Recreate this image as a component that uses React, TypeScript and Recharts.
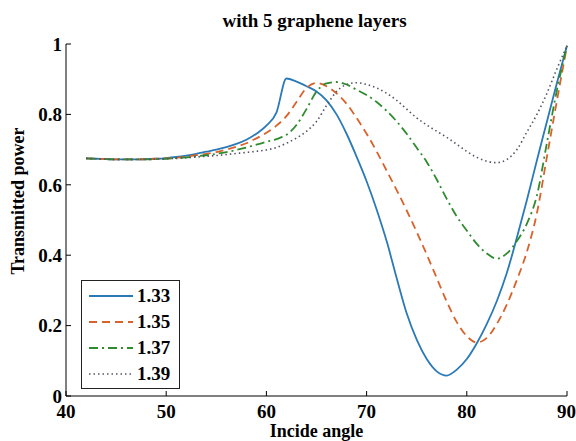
import { LineChart, Line, XAxis, YAxis, Legend } from 'recharts'

const FONT = "'Liberation Serif', 'Times New Roman', serif"

const angles = [
  42, 43, 44, 45, 46, 47, 48, 49, 50, 51, 52, 53, 54, 55, 56, 57, 58, 59, 60, 61, 62, 63, 64, 65, 66,
  67, 68, 69, 70, 71, 72, 73, 74, 75, 76, 77, 78, 79, 80, 81, 82, 83, 84, 85, 86, 87, 88, 89, 90,
]

// refractive index 1.33
const n133 = [
  0.675, 0.674, 0.673, 0.672, 0.672, 0.672, 0.673, 0.674, 0.676, 0.679, 0.683, 0.688, 0.694, 0.7, 0.707,
  0.716, 0.728, 0.745, 0.768, 0.805, 0.902, 0.893, 0.88, 0.865, 0.84, 0.8, 0.745, 0.68, 0.61, 0.53, 0.44,
  0.335, 0.235, 0.16, 0.105, 0.07, 0.058, 0.075, 0.105, 0.15, 0.205, 0.27, 0.35, 0.45, 0.557, 0.67, 0.78,
  0.89, 0.995,
]

// refractive index 1.35
const n135 = [
  0.675, 0.674, 0.673, 0.672, 0.672, 0.672, 0.673, 0.674, 0.675, 0.677, 0.68, 0.684, 0.688, 0.693, 0.7,
  0.708, 0.718, 0.732, 0.748, 0.768, 0.795, 0.835, 0.875, 0.889, 0.88, 0.86, 0.83, 0.79, 0.745, 0.695, 0.64,
  0.585, 0.527, 0.466, 0.402, 0.335, 0.268, 0.21, 0.17, 0.152, 0.165, 0.205, 0.26, 0.33, 0.41, 0.52, 0.68,
  0.84, 0.995,
]

// refractive index 1.37
const n137 = [
  0.675, 0.674, 0.673, 0.672, 0.672, 0.672, 0.672, 0.673, 0.674, 0.676, 0.678, 0.681, 0.684, 0.688, 0.693,
  0.699, 0.706, 0.714, 0.722, 0.73, 0.742, 0.77, 0.815, 0.865, 0.888, 0.892, 0.885, 0.87, 0.855, 0.835,
  0.81, 0.78, 0.745, 0.705, 0.665, 0.615, 0.56, 0.51, 0.47, 0.432, 0.405, 0.39, 0.405, 0.44, 0.49, 0.57,
  0.72, 0.87, 0.995,
]

// refractive index 1.39
const n139 = [
  0.675, 0.674, 0.673, 0.672, 0.672, 0.672, 0.672, 0.673, 0.674, 0.675, 0.677, 0.679, 0.681, 0.683, 0.686,
  0.689, 0.692, 0.695, 0.699, 0.706, 0.718, 0.733, 0.752, 0.78, 0.825, 0.865, 0.885, 0.89, 0.885, 0.875,
  0.86, 0.84, 0.815, 0.79, 0.77, 0.752, 0.735, 0.715, 0.695, 0.678, 0.667, 0.663, 0.672, 0.7, 0.75, 0.8,
  0.86, 0.93, 0.995,
]

const xTicks = [40, 50, 60, 70, 80, 90]
const yTicks = [0, 0.2, 0.4, 0.6, 0.8, 1]

const series = [
  { key: 'n133', name: '1.33', color: '#2a7ab8', dash: undefined as string | undefined, width: 1.8 },
  { key: 'n135', name: '1.35', color: '#d9622b', dash: '8 5', width: 1.8 },
  { key: 'n137', name: '1.37', color: '#2e8b2e', dash: '9 4 2 4', width: 1.8 },
  { key: 'n139', name: '1.39', color: '#555566', dash: '1.5 3', width: 1.6 },
]

const data = angles.map((angle, i) => ({
  angle,
  n133: n133[i],
  n135: n135[i],
  n137: n137[i],
  n139: n139[i],
}))

const tickStyle = { fontFamily: FONT, fontWeight: 700, fontSize: 19, fill: '#000' }

function LegendBox() {
  return (
    <div
      style={{
        border: '1px solid #222',
        background: '#fff',
        width: 99,
        height: 109,
        boxSizing: 'border-box',
        padding: '2px 0 0 6px',
      }}
    >
      {series.map((s) => (
        <div key={s.key} style={{ display: 'flex', alignItems: 'center', height: 26 }}>
          <svg width={46} height={10}>
            <line x1={1} x2={45} y1={5} y2={5} stroke={s.color} strokeWidth={s.width} strokeDasharray={s.dash} />
          </svg>
          <span style={{ fontFamily: FONT, fontWeight: 700, fontSize: 19, marginLeft: 3, color: '#000' }}>{s.name}</span>
        </div>
      ))}
    </div>
  )
}

export default function App() {
  return (
    <div style={{ position: 'absolute', left: 0, top: 0, width: 576, height: 441, background: '#fff' }}>
      <div
        style={{
          position: 'absolute',
          left: 66,
          width: 497,
          top: 10,
          textAlign: 'center',
          fontFamily: FONT,
          fontWeight: 700,
          fontSize: 19,
          lineHeight: '22px',
        }}
      >
        with 5 graphene layers
      </div>
      <LineChart width={576} height={441} data={data} margin={{ top: 44, right: 9, left: 0, bottom: 0 }}>
        <XAxis
          dataKey="angle"
          type="number"
          domain={[40, 90]}
          ticks={xTicks}
          height={45}
          tickSize={-5}
          tickMargin={14}
          stroke="#000"
          tick={tickStyle}
          label={{ value: 'Incide angle', position: 'insideBottom', offset: 4, style: { ...tickStyle, fontSize: 18 } }}
        />
        <XAxis
          xAxisId="top"
          dataKey="angle"
          type="number"
          domain={[40, 90]}
          ticks={xTicks}
          orientation="top"
          height={0}
          tickSize={-5}
          tick={false}
          stroke="#000"
        />
        <YAxis
          domain={[0, 1]}
          ticks={yTicks}
          width={66}
          tickSize={-5}
          tickMargin={9}
          stroke="#000"
          tick={tickStyle}
          tickFormatter={(v: number) => (v === 0 || v === 1 ? String(v) : v.toFixed(1))}
          label={({ viewBox }: any) => {
            const cx = viewBox.x + 18
            const cy = viewBox.y + viewBox.height / 2 - 19
            return (
              <text
                x={cx}
                y={cy}
                transform={`rotate(-90 ${cx} ${cy})`}
                textAnchor="middle"
                dominantBaseline="central"
                style={{ ...tickStyle, fontSize: 18 }}
              >
                Transmitted power
              </text>
            )
          }}
        />
        <YAxis
          yAxisId="right"
          orientation="right"
          domain={[0, 1]}
          ticks={yTicks}
          width={0}
          tickSize={-5}
          tick={false}
          stroke="#555"
        />
        {series.map((s) => (
          <Line
            key={s.key}
            dataKey={s.key}
            name={s.name}
            type="monotone"
            stroke={s.color}
            strokeWidth={s.width}
            strokeDasharray={s.dash}
            dot={false}
            activeDot={false}
            isAnimationActive={false}
          />
        ))}
        <Legend
          layout="vertical"
          align="center"
          verticalAlign="middle"
          content={() => <LegendBox />}
          wrapperStyle={{ position: 'absolute', left: 81, top: 280, width: 99, height: 109 }}
        />
      </LineChart>
    </div>
  )
}
